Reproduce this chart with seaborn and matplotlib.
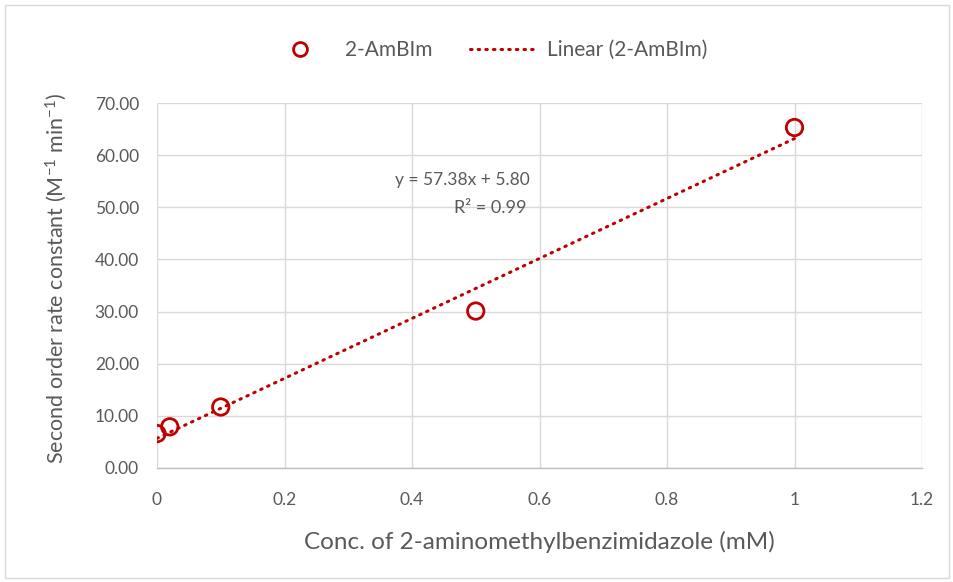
import matplotlib
matplotlib.use("Agg")
import matplotlib.pyplot as plt
import seaborn as sns
import numpy as np
import pandas as pd
from matplotlib.patches import Rectangle
from matplotlib.lines import Line2D

conc = [0.0, 0.02, 0.1, 0.5, 1.0]
rate = [6.6, 7.9, 11.7, 30.1, 65.3]
series_name = "2-AmBIm"
trend_name = "Linear (2-AmBIm)"
eq_text = "y = 57.38x + 5.80"
r2_text = "R² = 0.99"
x_ticks = [0, 0.2, 0.4, 0.6, 0.8, 1, 1.2]
x_tick_labels = ["0", "0.2", "0.4", "0.6", "0.8", "1", "1.2"]
y_ticks = [0, 10, 20, 30, 40, 50, 60, 70]
x_label = "Conc. of 2-aminomethylbenzimidazole (mM)"
y_label = "Second order rate constant (M$^{-1}$ min$^{-1}$)"

df = pd.DataFrame({"conc": conc, "rate": rate})

sns.set_theme(style="white")
plt.rcParams['font.family'] = ['Lato', 'DejaVu Sans']
plt.rcParams['mathtext.fontset'] = 'custom'
plt.rcParams['mathtext.rm'] = 'Lato'
plt.rcParams['mathtext.it'] = 'Lato'

red = "#C00000"
gray_text = "#595959"
grid_c = "#d9d9d9"

fig = plt.figure(figsize=(9.54, 5.82), dpi=100)
W, H = 954, 582
ax = fig.add_axes([157 / W, 1 - 468 / H, (922 - 157) / W, (468 - 103) / H])

fig.patches.append(Rectangle((5 / W, 4 / H), 944 / W, 573 / H, transform=fig.transFigure,
                             fill=False, edgecolor="#d9d9d9", linewidth=1))

dots = (0, (0.5, 2.0))
sns.regplot(data=df, x="conc", y="rate", ax=ax, scatter=False, ci=None, truncate=True,
            line_kws=dict(color=red, linewidth=2.2, linestyle=dots,
                          dash_capstyle="round"))
sns.scatterplot(data=df, x="conc", y="rate", ax=ax, marker="o", s=140,
                facecolor="none", edgecolor=red, linewidth=2, zorder=5)

ax.set_xlim(0, 1.2)
ax.set_ylim(0, 70)
ax.set_xticks(x_ticks)
ax.set_xticklabels(x_tick_labels)
ax.set_yticks(y_ticks)
ax.set_yticklabels([f"{v:.2f}" for v in y_ticks])
ax.grid(True, color=grid_c, linewidth=1)
ax.set_axisbelow(True)
for s in ["top", "right", "left"]:
    ax.spines[s].set_visible(False)
ax.spines["bottom"].set_color("#bfbfbf")
ax.spines["bottom"].set_linewidth(1)
ax.tick_params(axis="x", length=0, labelsize=12.5, colors=gray_text, pad=17)
ax.tick_params(axis="y", length=0, labelsize=12.5, colors=gray_text, pad=13)
ax.set_xlabel(x_label, fontsize=17.5, color=gray_text, labelpad=17)
ax.set_ylabel(y_label, fontsize=15.5, color=gray_text)
ax.yaxis.set_label_coords(-0.115, 0.52)

ax.text(0.585, 55.2, eq_text, fontsize=12.5, color=gray_text, ha="right", va="center")
ax.text(0.58, 49.9, r2_text, fontsize=13, color=gray_text, ha="right", va="center")

handles = [Line2D([], [], marker="o", linestyle="none", markerfacecolor="none",
                  markeredgecolor=red, markeredgewidth=2, markersize=10),
           Line2D([], [], color=red, linewidth=2.2, linestyle=dots,
                  dash_capstyle="round")]
fig.legend(handles, [series_name, trend_name], loc="center", bbox_to_anchor=(0.511, 1 - 50 / H),
           ncol=2, frameon=False, fontsize=15, labelcolor=gray_text, handlelength=3.1,
           columnspacing=1.8, handletextpad=0.6)

fig.savefig("out.png", dpi=100)
